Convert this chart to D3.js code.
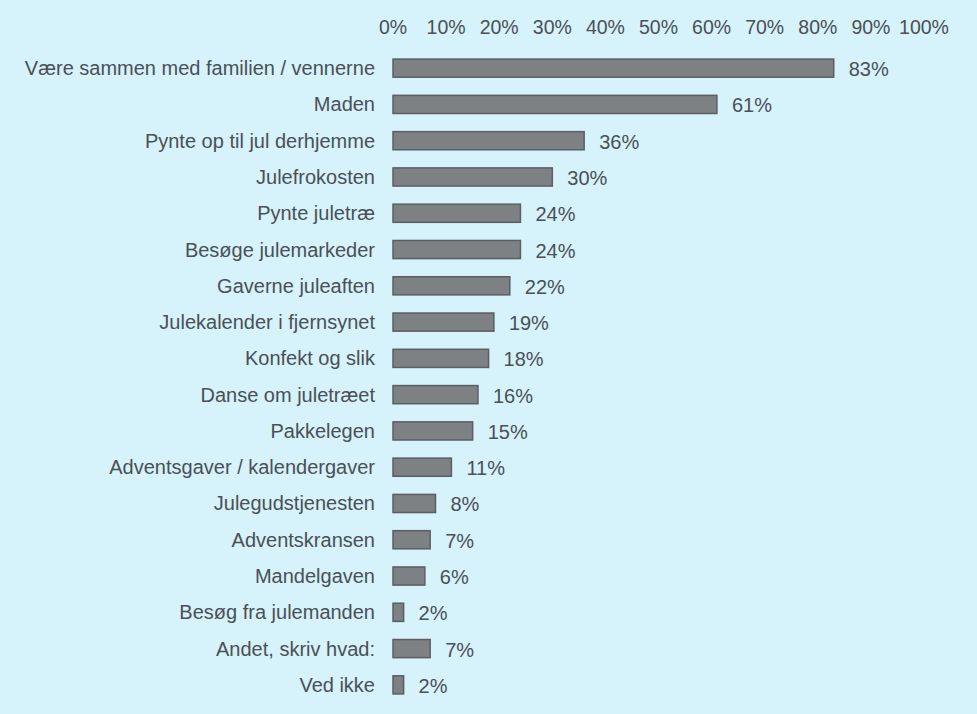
<!DOCTYPE html>
<html>
<head>
<meta charset="utf-8">
<script src="https://cdnjs.cloudflare.com/ajax/libs/d3/7.8.5/d3.min.js"></script>
<style>
  body { margin: 0; background: #d6f2fa; }
  text { font-family: "Liberation Sans", Arial, sans-serif; fill: #4a5056; }
</style>
</head>
<body>
<div id="chartContainer"></div>
<script>
  // categories and percentages
  var categories = [
    "Være sammen med familien / vennerne", "Maden", "Pynte op til jul derhjemme",
    "Julefrokosten", "Pynte juletræ", "Besøge julemarkeder", "Gaverne juleaften",
    "Julekalender i fjernsynet", "Konfekt og slik", "Danse om juletræet",
    "Pakkelegen", "Adventsgaver / kalendergaver", "Julegudstjenesten",
    "Adventskransen", "Mandelgaven", "Besøg fra julemanden",
    "Andet, skriv hvad:", "Ved ikke"
  ];
  var values = [83, 61, 36, 30, 24, 24, 22, 19, 18, 16, 15, 11, 8, 7, 6, 2, 7, 2];
  var ticks = [0, 10, 20, 30, 40, 50, 60, 70, 80, 90, 100];

  var data = categories.map(function (c, i) { return { name: c, value: values[i] }; });

  var svg = d3.select("#chartContainer").append("svg")
    .attr("width", 977).attr("height", 714);

  var x = d3.scaleLinear().domain([0, 100]).range([393, 924]);
  var y = d3.scaleBand().domain(categories).range([50, 703]).paddingInner(0.5).paddingOuter(0.25);

  // top axis labels only, no line
  svg.selectAll(".tick")
    .data(ticks)
    .enter().append("text")
      .attr("x", function (d) { return x(d); })
      .attr("y", 34)
      .attr("text-anchor", "middle")
      .style("font-size", "19.5px")
      .text(function (d) { return d + "%"; });

  // bars
  svg.selectAll(".bar")
    .data(data)
    .enter().append("rect")
      .attr("x", x(0))
      .attr("y", function (d) { return y(d.name); })
      .attr("width", function (d) { return x(d.value) - x(0); })
      .attr("height", y.bandwidth())
      .style("fill", "#7e8184")
      .style("stroke", "#5b5f63")
      .style("stroke-width", 1.5);

  // category labels
  svg.selectAll(".cat")
    .data(data)
    .enter().append("text")
      .attr("x", 375)
      .attr("y", function (d) { return y(d.name) + y.bandwidth() / 2; })
      .attr("dy", "0.35em")
      .attr("text-anchor", "end")
      .style("font-size", "20px")
      .text(function (d) { return d.name; });

  // value labels
  svg.selectAll(".val")
    .data(data)
    .enter().append("text")
      .attr("x", function (d) { return x(d.value) + 15; })
      .attr("y", function (d) { return y(d.name) + y.bandwidth() / 2; })
      .attr("dy", "0.4em")
      .style("font-size", "20px")
      .text(function (d) { return d.value + "%"; });
</script>
</body>
</html>
